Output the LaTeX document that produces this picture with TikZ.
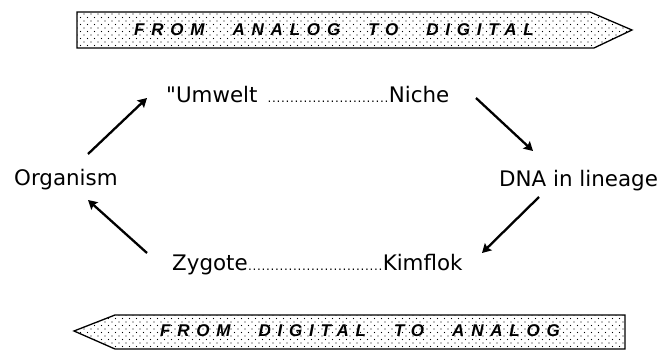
\documentclass[tikz,border=0pt]{standalone}
\usepackage{fontspec}
\newfontfamily\termfont{DejaVu Sans}
\newfontfamily\bannerfont[LetterSpace=40]{Liberation Sans}
\usetikzlibrary{patterns,arrows.meta}

% light stipple used inside the two direction banners
\pgfdeclarepatternformonly{stipple}{\pgfqpoint{-1pt}{-1pt}}{\pgfqpoint{4.5pt}{4.5pt}}{\pgfqpoint{7pt}{7pt}}{%
  \pgfpathcircle{\pgfqpoint{0pt}{0pt}}{0.6pt}%
  \pgfpathcircle{\pgfqpoint{3.5pt}{3.5pt}}{0.6pt}%
  \pgfusepath{fill}}

% a run of small leader dots
\newcommand\dotrun[1]{{\fontsize{12}{12}\selectfont\foreach \k in {1,...,#1}{\makebox[4.5pt]{.}}}}

\tikzset{
  term/.style={font=\termfont\fontsize{21.4}{24}\selectfont, inner sep=0pt, anchor=base west},
  banner/.style={draw=black, line width=1.3pt, pattern=stipple, pattern color=black},
  bannertext/.style={font=\bannerfont\bfseries\itshape\fontsize{17}{19}\selectfont, inner sep=0pt},
  cyc/.style={line width=2.3pt, -{Stealth[length=9pt,width=10pt,inset=1.5pt]}}
}

\begin{document}
\begin{tikzpicture}[x=1pt,y=-1pt]
\useasboundingbox (0,0) rectangle (662,350);

% direction banners
\draw[banner] (77,12) -- (590,12) -- (632,30) -- (594,48) -- (77,48) -- cycle;
\node[bannertext] (fwd) at (334,30) {FROM\hspace{28pt}ANALOG\hspace{28pt}TO\hspace{28pt}DIGITAL};

\draw[banner] (625,315) -- (115,315) -- (74,331) -- (115,349) -- (625,349) -- cycle;
\node[bannertext] (back) at (360,331) {FROM\hspace{28pt}DIGITAL\hspace{28pt}TO\hspace{28pt}ANALOG};

% the four stations of the cycle
\node[term] (umwelt) at (166,103) {\char34 Umwelt \hspace{3pt}\dotrun{27}Niche};
\node[term] (dna) at (499,187) {DNA in lineage};
\node[term] (zygote) at (172,270) {Zygote\dotrun{30}Kimflok};
\node[term] (organism) at (14,186) {Organism};

% arrow end points
\coordinate (a1) at (88,154);  \coordinate (b1) at (147,98);
\coordinate (a2) at (476,98);  \coordinate (b2) at (533,151);
\coordinate (a3) at (539,197); \coordinate (b3) at (482,253);
\coordinate (a4) at (147,253); \coordinate (b4) at (88,200);

\draw[cyc] (a1) -- (b1);
\draw[cyc] (a2) -- (b2);
\draw[cyc] (a3) -- (b3);
\draw[cyc] (a4) -- (b4);
\end{tikzpicture}
\end{document}
